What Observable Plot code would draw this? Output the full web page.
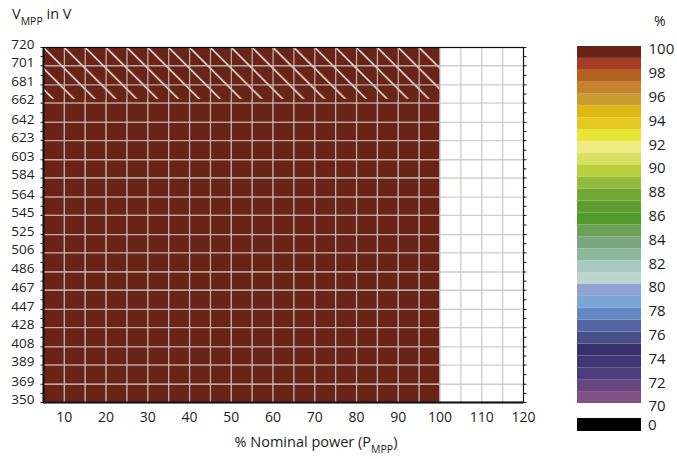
<!DOCTYPE html>
<html><head><meta charset="utf-8">
<script src="https://cdn.jsdelivr.net/npm/d3@7"></script>
<script src="https://cdn.jsdelivr.net/npm/@observablehq/plot@0.6"></script>
<style>
body{margin:0;background:#fff;}
#wrap{position:relative;width:677px;height:459px;font-family:"Open Sans",sans-serif;color:#1d1d1b;}
#legend{position:absolute;left:560px;top:0;}
.abs{position:absolute;font-family:"Open Sans",sans-serif;color:#1d1d1b;line-height:1;}
</style></head><body><div id="wrap"></div>
<script>
// ---- data ----
const powerEdges = [5,10,15,20,25,30,35,40,45,50,55,60,65,70,75,80,85,90,95,100];
const powerGrid = [10,15,20,25,30,35,40,45,50,55,60,65,70,75,80,85,90,95,100,105,110,115];
const powerTicks = [10,20,30,40,50,60,70,80,90,100,110,120];
const voltageTicks = [720,701,681,662,642,623,603,584,564,545,525,506,486,467,447,428,408,389,369,350];
// efficiency (%) per cell, rows from top (701-720) to bottom (350-369), columns 5-10 ... 95-100
const efficiency = [
  [100,100,100,100,100,100,100,100,100,100,100,100,100,100,100,100,100,100,100],
  [100,100,100,100,100,100,100,100,100,100,100,100,100,100,100,100,100,100,100],
  [100,100,100,100,100,100,100,100,100,100,100,100,100,100,100,100,100,100,100],
  [100,100,100,100,100,100,100,100,100,100,100,100,100,100,100,100,100,100,100],
  [100,100,100,100,100,100,100,100,100,100,100,100,100,100,100,100,100,100,100],
  [100,100,100,100,100,100,100,100,100,100,100,100,100,100,100,100,100,100,100],
  [100,100,100,100,100,100,100,100,100,100,100,100,100,100,100,100,100,100,100],
  [100,100,100,100,100,100,100,100,100,100,100,100,100,100,100,100,100,100,100],
  [100,100,100,100,100,100,100,100,100,100,100,100,100,100,100,100,100,100,100],
  [100,100,100,100,100,100,100,100,100,100,100,100,100,100,100,100,100,100,100],
  [100,100,100,100,100,100,100,100,100,100,100,100,100,100,100,100,100,100,100],
  [100,100,100,100,100,100,100,100,100,100,100,100,100,100,100,100,100,100,100],
  [100,100,100,100,100,100,100,100,100,100,100,100,100,100,100,100,100,100,100],
  [100,100,100,100,100,100,100,100,100,100,100,100,100,100,100,100,100,100,100],
  [100,100,100,100,100,100,100,100,100,100,100,100,100,100,100,100,100,100,100],
  [100,100,100,100,100,100,100,100,100,100,100,100,100,100,100,100,100,100,100],
  [100,100,100,100,100,100,100,100,100,100,100,100,100,100,100,100,100,100,100],
  [100,100,100,100,100,100,100,100,100,100,100,100,100,100,100,100,100,100,100],
  [100,100,100,100,100,100,100,100,100,100,100,100,100,100,100,100,100,100,100]
];
// hatched (derating) zone
const hatchPower = [5,100];
const hatchVoltage = [666,720];
// legend
const legendStops = [70,71,72,73,74,75,76,77,78,79,80,81,82,83,84,85,86,87,88,89,90,91,92,93,94,95,96,97,98,99];
const legendColors = ["#7f5084","#66467f","#4c3c7d","#3f3573","#38306c","#474e87","#5465a3","#6289c4","#7aa5d6","#8fa2d2",
  "#bdd4cf","#a8c8c2","#8eb699","#7aa781","#6ba055","#519b2e","#5e9d32","#72a833","#93bb3e","#b7d03f",
  "#d5e05f","#f0ea85","#e8e733","#e3c820","#e0b814","#c89c2e","#c5812c","#b5611f","#a53c24","#6a2317"];
const legendTicks = [70,72,74,76,78,80,82,84,86,88,90,92,94,96,98,100];
const zeroColor = "#000000";

// ---- build tables ----
const cells = [];
efficiency.forEach((row, i) => row.forEach((v, j) => cells.push({
  x1: powerEdges[j], x2: powerEdges[j + 1], y1: voltageTicks[i + 1], y2: voltageTicks[i], v
})));
const hatch = [{x1: hatchPower[0], x2: hatchPower[1], y1: hatchVoltage[0], y2: hatchVoltage[1]}];
const minorTicks = d3.pairs(voltageTicks, (a, b) => (a + b) / 2);
const allTicks = voltageTicks.concat(minorTicks);
const bands = legendStops.map((s, i) => ({y1: s, y2: s + 1, c: legendColors[i]}));

const gridStyle = {stroke: "#c8c3bf", strokeWidth: 1.3, strokeOpacity: 0.85};

const chart = Plot.plot({
  width: 677, height: 459,
  marginLeft: 43, marginRight: 154, marginTop: 47, marginBottom: 57,
  style: {fontFamily: "Open Sans, sans-serif", color: "#1d1d1b", background: "transparent"},
  x: {domain: [5, 120]},
  y: {domain: [350, 720]},
  color: {type: "threshold", domain: legendStops, range: [zeroColor, ...legendColors]},
  marks: [
    Plot.rect(cells, {x1: "x1", x2: "x2", y1: "y1", y2: "y2", fill: "v"}),
    Plot.rect(hatch, {x1: "x1", x2: "x2", y1: "y1", y2: "y2", fill: "url(#hatch)"}),
    Plot.ruleX(powerGrid, gridStyle),
    Plot.ruleY(voltageTicks.slice(1, -1), gridStyle),
    Plot.frame({stroke: "#111", strokeWidth: 1.2}),
    Plot.ruleX([powerEdges[0]], {stroke: "#111", strokeWidth: 2}),
    Plot.ruleY([voltageTicks[voltageTicks.length - 1]], {stroke: "#111", strokeWidth: 2}),
    Plot.axisY(voltageTicks, {anchor: "left", tickSize: 0, tickPadding: 9, fontSize: 13.5, dy: -3, label: null}),
    Plot.axisY(allTicks, {anchor: "left", tickSize: 2.5, tickFormat: () => "", label: null}),
    Plot.axisY(allTicks, {anchor: "right", tickSize: 2.5, tickFormat: () => "", label: null}),
    Plot.axisX(powerTicks, {anchor: "bottom", tickSize: 0, tickPadding: 10, fontSize: 14, label: null})
  ]
});

// hatch pattern aligned with the column grid
const xs = chart.scale("x"), ys = chart.scale("y");
const w = xs.apply(powerEdges[1]) - xs.apply(powerEdges[0]);
const svg = d3.select(chart);
const pat = svg.insert("defs", ":first-child").append("pattern")
  .attr("id", "hatch").attr("patternUnits", "userSpaceOnUse")
  .attr("x", xs.apply(powerEdges[0])).attr("y", ys.apply(voltageTicks[0]))
  .attr("width", w).attr("height", w);
pat.append("rect").attr("width", w).attr("height", w).attr("fill", legendColors[legendColors.length - 1]);
pat.append("path")
  .attr("d", `M-2,-2L${w + 2},${w + 2}M${w - 2},-2L${w + 2},2M-2,${w - 2}L2,${w + 2}`)
  .attr("stroke", "#ffffff").attr("stroke-width", 1.4).attr("fill", "none");

// titles with subscripts
const yt = svg.append("text").attr("x", 12).attr("y", 19).attr("font-size", 14.5)
  .attr("text-anchor", "start").attr("fill", "#1d1d1b");
yt.append("tspan").text("V");
yt.append("tspan").attr("font-size", 10.5).attr("dy", 6).text("MPP");
yt.append("tspan").attr("dy", -6).text(" in V");
const xt = svg.append("text").attr("x", 316).attr("y", 447).attr("font-size", 14.5).attr("text-anchor", "middle").attr("fill", "#1d1d1b");
xt.append("tspan").text("% Nominal power (P");
xt.append("tspan").attr("font-size", 10.5).attr("dy", 6).text("MPP");
xt.append("tspan").attr("dy", -6).text(")");

const legend = Plot.plot({
  width: 117, height: 459,
  marginLeft: 17, marginRight: 36, marginTop: 46, marginBottom: 56,
  style: {fontFamily: "Open Sans, sans-serif", color: "#1d1d1b", background: "transparent"},
  y: {domain: [legendStops[0], legendTicks[legendTicks.length - 1]]},
  marks: [
    Plot.rect(bands, {y1: "y1", y2: "y2", fill: "c"}),
    Plot.axisY(legendTicks, {anchor: "right", tickSize: 0, tickPadding: 7, fontSize: 15, dy: 3, label: null})
  ]
});
legend.id = "legend";

const wrap = document.getElementById("wrap");
wrap.append(chart, legend);
const pct = document.createElement("div");
pct.className = "abs"; pct.textContent = "%";
Object.assign(pct.style, {left: "654px", top: "14px", fontSize: "14px"});
const sw = document.createElement("div");
Object.assign(sw.style, {position: "absolute", left: "577px", top: "418px", width: "64px", height: "13px", background: zeroColor});
const zl = document.createElement("div");
zl.className = "abs"; zl.textContent = "0";
Object.assign(zl.style, {left: "648px", top: "417px", fontSize: "15px"});
wrap.append(pct, sw, zl);
</script></body></html>
